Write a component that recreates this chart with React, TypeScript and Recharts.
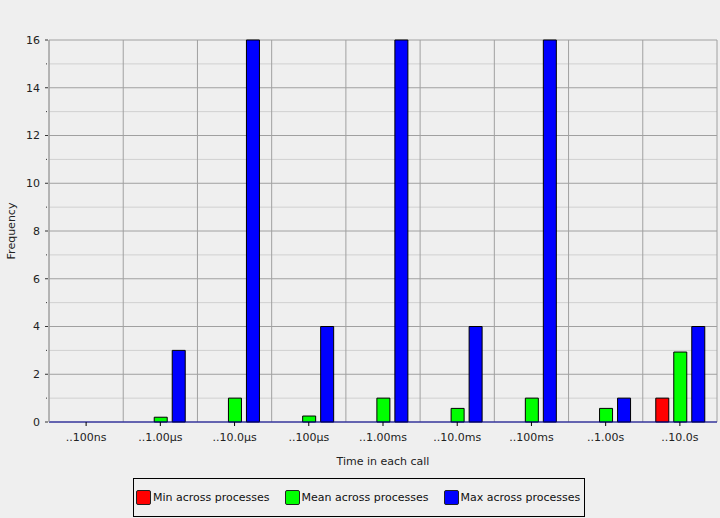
import React from "react";
import {
  Bar,
  BarChart,
  CartesianGrid,
  Legend,
  XAxis,
  YAxis,
} from "recharts";

const categories = [
  "..100ns",
  "..1.00µs",
  "..10.0µs",
  "..100µs",
  "..1.00ms",
  "..10.0ms",
  "..100ms",
  "..1.00s",
  "..10.0s",
];
const minValues = [0, 0, 0, 0, 0, 0, 0, 0, 1];
const meanValues = [0, 0.2, 1, 0.25, 1, 0.57, 1, 0.57, 2.93];
const maxValues = [0, 3, 16, 4, 16, 4, 16, 1, 4];
const yTicks = [0, 1, 2, 3, 4, 5, 6, 7, 8, 9, 10, 11, 12, 13, 14, 15, 16];
const majorTicks = [0, 2, 4, 6, 8, 10, 12, 14, 16];
const minorTicks = [1, 3, 5, 7, 9, 11, 13, 15];

const series = [
  { key: "min", name: "Min across processes", color: "#ff0000" },
  { key: "mean", name: "Mean across processes", color: "#00ff00" },
  { key: "max", name: "Max across processes", color: "#0000ff" },
];

const data = categories.map((c, i) => ({
  name: c,
  min: minValues[i],
  mean: meanValues[i],
  max: maxValues[i],
}));

const FONT = "'DejaVu Sans', sans-serif";

const YTick = (props: any) => {
  const { x, y, payload } = props;
  const v = payload.value;
  if (v % 2 === 1) {
    return <rect x={x + 1} y={y - 0.5} width={1} height={1} fill="#333" />;
  }
  return (
    <g>
      <line x1={x} x2={x + 3} y1={y} y2={y} stroke="#333" />
      <text
        x={x - 5}
        y={y}
        dy="0.35em"
        textAnchor="end"
        fontSize={11}
        fill="#222"
        fontFamily={FONT}
      >
        {v}
      </text>
    </g>
  );
};

const LegendBox = () => (
  <div
    style={{
      boxSizing: "border-box",
      width: 452,
      height: 39,
      border: "1px solid #000",
      display: "flex",
      alignItems: "center",
      paddingLeft: 2,
      fontFamily: FONT,
      fontSize: 11,
      color: "#111",
      whiteSpace: "nowrap",
    }}
  >
    {series.map((s) => (
      <div
        key={s.key}
        style={{
          display: "flex",
          alignItems: "center",
          marginRight: 15,
          flexShrink: 0,
        }}
      >
        <span
          style={{
            display: "inline-block",
            boxSizing: "border-box",
            width: 15,
            height: 15,
            background: s.color,
            border: "1px solid #222",
            borderRadius: 2,
            marginRight: 2,
            flexShrink: 0,
          }}
        />
        <span>{s.name}</span>
      </div>
    ))}
  </div>
);

export default function App() {
  return (
    <div
      style={{
        position: "absolute",
        left: 0,
        top: 0,
        width: 720,
        height: 518,
        background: "#efefef",
      }}
    >
      <BarChart
        width={720}
        height={518}
        data={data}
        margin={{ top: 40, right: 3, left: 0, bottom: 0 }}
        barSize={13}
        barGap={5}
        style={{ fontFamily: FONT }}
      >
        <CartesianGrid
          vertical={false}
          horizontalValues={minorTicks}
          stroke="#d0d0d0"
          strokeWidth={1}
        />
        <CartesianGrid
          vertical={false}
          horizontalValues={majorTicks}
          stroke="#a0a0a0"
          strokeWidth={1}
        />
        <CartesianGrid
          horizontal={false}
          stroke="#a0a0a0"
          verticalCoordinatesGenerator={({ offset }: any) =>
            categories
              .map((_, i) => offset.left + (i * offset.width) / categories.length)
              .concat([offset.left + offset.width])
          }
        />
        <XAxis
          dataKey="name"
          height={96}
          axisLine={{ stroke: "#000099" }}
          tickLine={{ stroke: "#000" }}
          tickSize={4}
          tickMargin={7}
          tick={{ fontSize: 11, fill: "#222", fontFamily: FONT }}
          label={{
            value: "Time in each call",
            position: "insideTop",
            offset: 35,
            fontSize: 11,
            fill: "#222",
            fontFamily: FONT,
          }}
        />
        <YAxis
          width={49}
          domain={[0, 16]}
          ticks={yTicks}
          interval={0}
          axisLine={{ stroke: "#a0a0a0" }}
          tickLine={false}
          tickSize={4}
          tickMargin={0}
          tick={<YTick />}
          label={{
            value: "Frequency",
            angle: -90,
            position: "center",
            dx: -13,
            fontSize: 11,
            fill: "#222",
            fontFamily: FONT,
          }}
        />
        <Legend
          layout="vertical"
          align="center"
          verticalAlign="middle"
          wrapperStyle={{ left: 133, top: 478, width: 452, height: 39 }}
          content={() => <LegendBox />}
        />
        {series.map((s) => (
          <Bar
            key={s.key}
            dataKey={s.key}
            name={s.name}
            fill={s.color}
            stroke="#000"
            strokeWidth={1}
            isAnimationActive={false}
          />
        ))}
      </BarChart>
    </div>
  );
}
